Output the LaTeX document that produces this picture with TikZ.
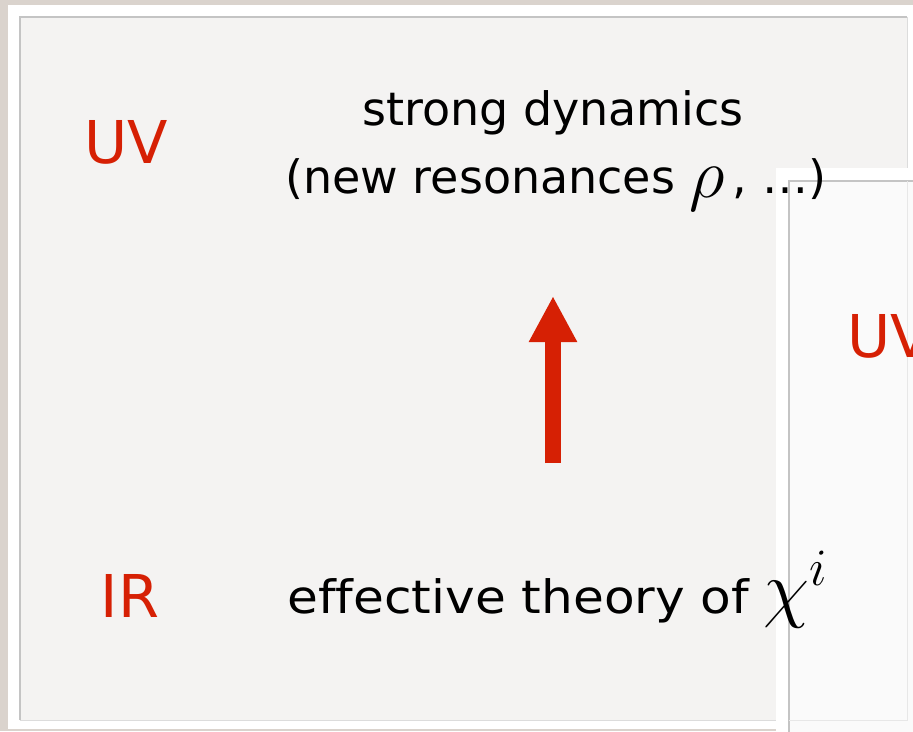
\RequirePackage{fix-cm}
\documentclass[tikz,border=0pt]{standalone}
\usepackage{graphicx}
\usepackage{fontspec}
\setmainfont[Ligatures=NoCommon]{DejaVu Sans}
\usetikzlibrary{arrows.meta}
\definecolor{uvred}{RGB}{214,32,4}
\definecolor{bgtex}{RGB}{218,211,205}
\definecolor{panelfill}{RGB}{244,243,242}
\definecolor{panelfilltwo}{RGB}{250,250,250}
\definecolor{edgegray}{RGB}{196,196,196}
\tikzset{
  scalelabel/.style={text=uvred, inner sep=0pt, font=\fontsize{59}{59}\selectfont},
  bodytext/.style={text=black, inner sep=0pt, font=\fontsize{46}{54}\selectfont},
  bigarrow/.style={draw=uvred, line width=16pt, -{Triangle[width=45pt,length=46pt]}},
}
\newcommand{\bigmath}[2]{{\fontsize{#1}{#1}\selectfont$#2$}}
\begin{document}
\begin{tikzpicture}[x=1pt,y=-1pt]
\useasboundingbox (0,0) rectangle (913,731);
\clip (0,0) rectangle (913,731);
% background
\fill[bgtex] (0,0) rectangle (913,731);
% main panel
\fill[white] (8,5) rectangle (920,729);
\fill[panelfill] (20,17) rectangle (907,720);
\draw[edgegray, line width=1.5pt] (20,720) -- (20,17) -- (907,17);
\draw[edgegray!60, line width=1pt] (907,17) -- (907,720) -- (20,720);
% second panel (behind text)
\fill[white] (776,168) rectangle (930,740);
\fill[panelfilltwo] (789,181) rectangle (930,740);
\draw[edgegray, line width=1.5pt] (789,740) -- (789,181) -- (930,181);
\draw[edgegray!40, line width=0.8pt] (907,181) -- (907,720) -- (789,720);
% second panel label
\node[scalelabel, anchor=base west] (uvtwo) at (847,357) {UV};
% main texts
\node[scalelabel, anchor=base] (uv) at (126,163) {UV};
\node[scalelabel, anchor=base] (ir) at (130,617) {IR};
\node[bodytext, anchor=base] (strong) at (553,125) {strong dynamics};
\node[bodytext, anchor=base west] (reso) at (285,193) {(new resonances \raisebox{-4pt}{\bigmath{70}{\rho}}\,, …)};
\node[bodytext, anchor=base west] (eff) at (287,613) {\scalebox{1.09}[1]{effective theory of} \bigmath{75}{\chi^i}};
% arrow
\coordinate (arrowfoot) at (553,463);
\coordinate (arrowtip) at (553,296);
\draw[bigarrow] (arrowfoot) -- (arrowtip);
\end{tikzpicture}
\end{document}
